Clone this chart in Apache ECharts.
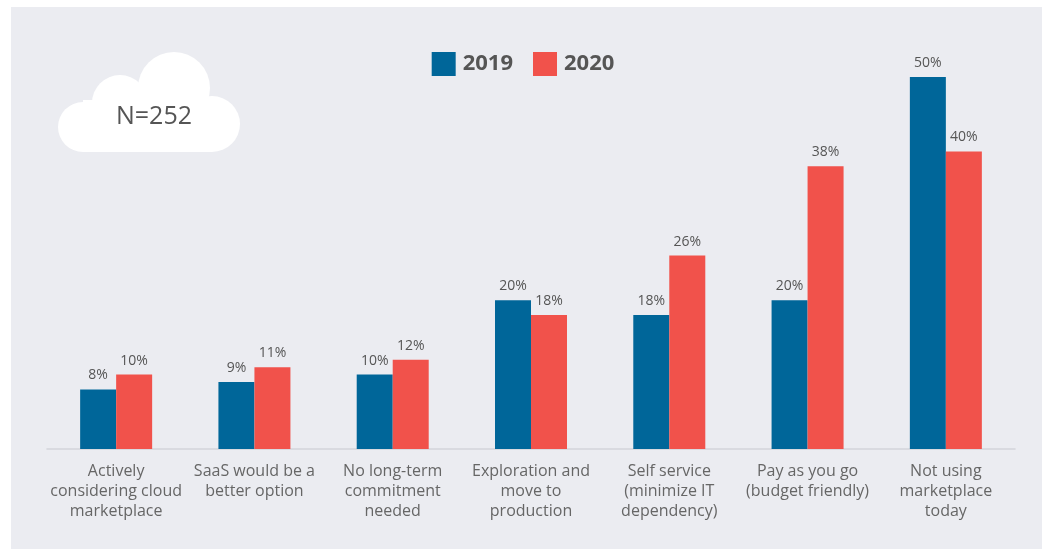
<!DOCTYPE html>
<html><head><meta charset="utf-8">
<script src="https://cdn.jsdelivr.net/npm/echarts@6/dist/echarts.min.js"></script>
<style>html,body{margin:0;padding:0;background:#fff}#c{width:1046px;height:550px}</style>
</head><body><div id="c"></div>
<script>
const categories = [
  "Actively\nconsidering cloud\nmarketplace",
  "SaaS would be a\nbetter option",
  "No long-term\ncommitment\nneeded",
  "Exploration and\nmove to\nproduction",
  "Self service\n(minimize IT\ndependency)",
  "Pay as you go\n(budget friendly)",
  "Not using\nmarketplace\ntoday"
];
const values2019 = [8, 9, 10, 20, 18, 20, 50];
const values2020 = [10, 11, 12, 18, 26, 38, 40];
const seriesNames = ["2019", "2020"];
const sampleLabel = "N=252";

const FONT = "Open Sans";
const chart = echarts.init(document.getElementById('c'));
const lbl = {show:true, position:'top', formatter:'{c}%', color:'#555', fontSize:14, fontFamily:FONT, distance:7};
chart.setOption({
  backgroundColor:'#fff',
  animation:false,
  graphic:[
    {type:'rect', z:-10, silent:true, shape:{x:11,y:7,width:1031,height:542}, style:{fill:'#EBECF1'}},
    {type:'group', z:-5, silent:true, children:[
      {type:'circle', shape:{cx:174,cy:88,r:36}, style:{fill:'#fff'}},
      {type:'circle', shape:{cx:120,cy:103,r:28}, style:{fill:'#fff'}},
      {type:'circle', shape:{cx:212,cy:124,r:28}, style:{fill:'#fff'}},
      {type:'circle', shape:{cx:83,cy:127,r:25}, style:{fill:'#fff'}},
      {type:'rect', shape:{x:83,y:100,width:129,height:52}, style:{fill:'#fff'}},
      {type:'text', x:154, y:117, style:{text:sampleLabel, fill:'#555', fontSize:25, fontFamily:FONT, align:'center', verticalAlign:'middle'}}
    ]}
  ],
  legend:{
    top:47, left:'center', itemWidth:24, itemHeight:24, itemGap:20,
    icon:'rect',
    textStyle:{color:'#555', fontSize:22, fontWeight:'bold', fontFamily:FONT, padding:[0,0,0,2]},
    data:seriesNames
  },
  grid:{left:47, right:31, top:77, bottom:101, containLabel:false},
  xAxis:{
    type:'category', data:categories,
    axisLine:{lineStyle:{color:'#D3D4DA', width:1.5}},
    axisTick:{show:false},
    axisLabel:{color:'#666', fontSize:16, fontFamily:FONT, lineHeight:20, margin:12, interval:0}
  },
  yAxis:{type:'value', min:0, max:50, show:false, splitLine:{show:false}},
  series:[
    {name:seriesNames[0], type:'bar', data:values2019, barWidth:36, barGap:'0%', itemStyle:{color:'#006699'}, label:lbl},
    {name:seriesNames[1], type:'bar', data:values2020, barWidth:36, itemStyle:{color:'#F1524B'}, label:lbl}
  ]
});
</script></body></html>
